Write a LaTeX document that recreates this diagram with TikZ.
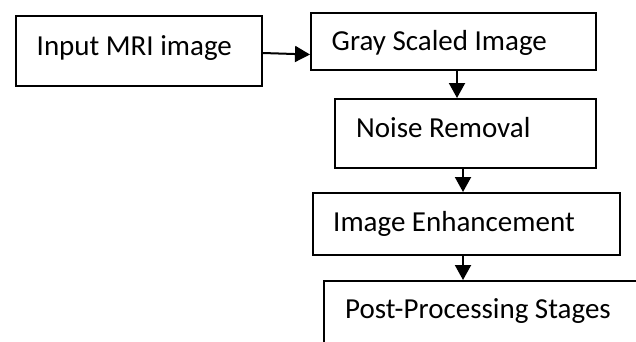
\documentclass[tikz,border=0pt]{standalone}
\usepackage{fontspec}
\setmainfont{Carlito}
\usetikzlibrary{arrows.meta,calc}
\begin{document}
\begin{tikzpicture}[x=1pt,y=-1pt,
  box/.style={draw=black,line width=2pt,rectangle,anchor=north west,inner sep=0pt},
  lbl/.style={anchor=base west,inner sep=0pt,font=\fontsize{29}{34}\selectfont},
  arr/.style={line width=2pt,-{Triangle[length=15pt,width=16pt]}}]
\useasboundingbox (0,0) rectangle (636,341);
\clip (0,0) rectangle (636,341);
% processing stages
\node[box,minimum width=246pt,minimum height=70pt] (b1) at (15,15) {};
\node[box,minimum width=285pt,minimum height=57pt] (b2) at (310,12) {};
\node[box,minimum width=261pt,minimum height=69pt] (b3) at (334,98) {};
\node[box,minimum width=307pt,minimum height=62pt] (b4) at (312,192) {};
\node[box,minimum width=380pt,minimum height=120pt] (b5) at (323,280) {};
% stage captions
\node[lbl] (t1) at (36.5,55) {Input MRI image};
\node[lbl] (t2) at (331.5,50) {Gray Scaled Image};
\node[lbl] (t3) at (356,137) {Noise Removal};
\node[lbl] (t4) at (333,231.5) {Image Enhancement};
\node[lbl] (t5) at (345,318) {Post-Processing Stages};
% flow arrows
\draw[arr] ($(b1.north east)+(0,38)$) -- ($(b2.north west)+(0,42.5)$);
\draw[arr] ($(b2.south west)+(147,0)$) -- ($(b3.north west)+(123,0)$);
\draw[arr] ($(b3.south west)+(129,0)$) -- ($(b4.north west)+(151,0)$);
\draw[arr] ($(b4.south west)+(151,0)$) -- ($(b5.north west)+(140,0)$);
\end{tikzpicture}
\end{document}
